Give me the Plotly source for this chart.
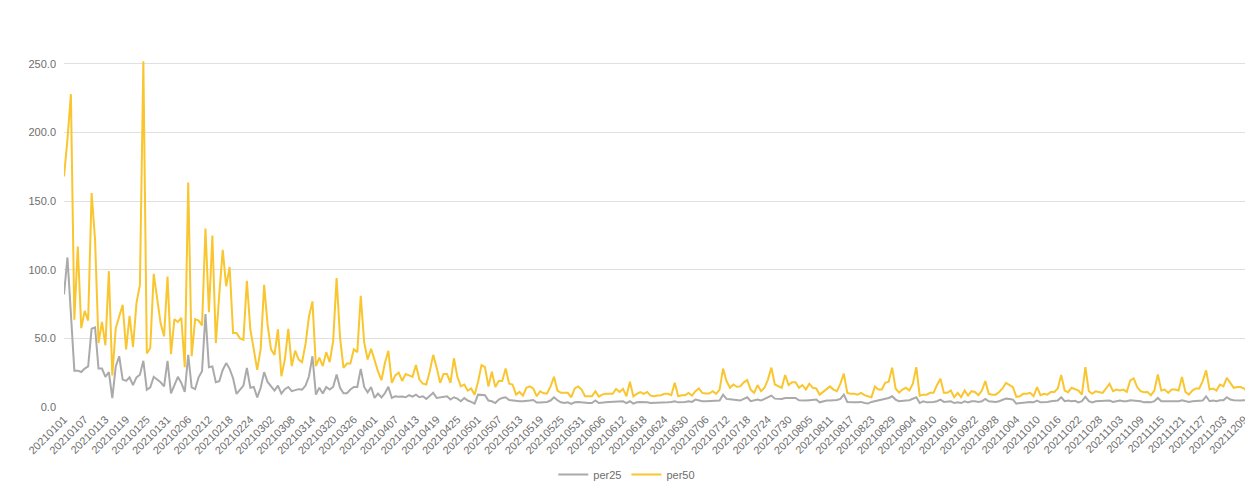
import datetime
from plotly import graph_objs as go

# daily percentiles (20210101 .. 20211211)
per25 = [
    82, 109, 68, 26.5, 26.5, 25.5, 28, 29.6, 57, 58,
    28, 28, 22, 25.5, 6.5, 29.6, 37, 20, 19, 21.6,
    16, 21.6, 23.5, 33.7, 12.6, 14.3, 22, 20, 18, 15,
    33.7, 10, 16.7, 22, 17.5, 11, 38, 14.3, 13, 21.6,
    26, 67.7, 29, 29.6, 18, 18.8, 27, 32, 27.8, 21,
    9.5, 13, 15.6, 28.5, 14, 14.6, 7, 14, 25.4, 18.3,
    15, 12, 15.6, 9.8, 13, 14.6, 11.5, 12, 13, 12.7,
    15.6, 22.4, 37, 9, 14, 9.8, 14.6, 12.7, 14.6, 23.7,
    14, 10, 10, 12.7, 14.6, 14.6, 27.8, 14.6, 10.7, 14.6,
    6.6, 9.8, 7, 10, 14.7, 6.6, 7.8, 7.4, 7.6, 7.1,
    8.6, 7.6, 9, 7.1, 7.8, 5.9, 7.8, 10.3, 6.6, 7.1,
    7.1, 7.8, 5.4, 7.1, 6.1, 4.2, 6.6, 4.7, 3.7, 2.5,
    9, 9, 8.6, 4.7, 4.2, 2.9, 5.4, 6.6, 7.1, 5.1,
    4.7, 4.2, 4.2, 4.2, 4.7, 4.7, 5.1, 3.2, 3.2, 3.2,
    3.7, 4.7, 7.1, 4.9, 3.4, 2.9, 3.4, 2.2, 3.4, 3.7,
    3.4, 2.9, 2.9, 2.9, 4.7, 2.9, 3.4, 3.4, 3.7, 3.7,
    4.2, 3.7, 4.2, 2.9, 4.2, 2.5, 3.4, 3.7, 3.7, 3.4,
    2.9, 2.9, 2.9, 3.4, 3.4, 3.4, 3.7, 4.2, 3.4, 3.4,
    3.7, 4.2, 3.7, 5.4, 4.7, 4.2, 4.2, 4.2, 4.7, 4.2,
    4.7, 9, 5.9, 5.6, 5.4, 4.7, 4.7, 5.9, 7.1, 4.2,
    4.9, 5.4, 4.7, 5.9, 6.6, 8.3, 6.1, 5.9, 5.9, 6.6,
    6.6, 6.1, 6.6, 4.9, 4.7, 4.7, 4.9, 5.4, 5.4, 3.4,
    4.2, 4.7, 4.7, 4.7, 5.1, 5.9, 9, 3.7, 3.4, 3.4,
    3.4, 3.7, 2.9, 2.5, 3.7, 4.2, 4.7, 5.1, 6.1, 6.6,
    7.8, 5.4, 4.2, 4.2, 4.7, 4.9, 6.1, 7.1, 2.9, 4.2,
    3.4, 3.4, 3.7, 4.2, 5.4, 3.7, 4.2, 4.2, 2.9, 3.4,
    2.9, 4.2, 3.4, 4.2, 4.2, 3.7, 4.2, 5.9, 4.2, 3.7,
    3.7, 4.2, 4.9, 6.1, 5.9, 5.4, 2.5, 2.9, 3.4, 3.4,
    3.7, 3.4, 4.7, 3.4, 3.4, 3.7, 4.2, 4.2, 4.7, 7.1,
    4.2, 4.7, 4.2, 4.5, 3.4, 4.2, 7.4, 4.2, 3.4, 4.2,
    4.2, 4.2, 4.7, 4.7, 3.7, 4.2, 4.7, 4.2, 4.2, 4.9,
    4.7, 4.2, 4.2, 3.4, 3.7, 3.4, 4.2, 6.6, 4.2, 4.2,
    4.2, 4.2, 4.2, 4.2, 4.9, 4.2, 3.7, 4.2, 4.2, 4.2,
    4.7, 7.8, 4.2, 4.7, 4.2, 4.9, 4.9, 7.1, 5.4, 4.9,
    4.7, 4.7, 4.9, 4.7, 5.4,
]

per50 = [
    168, 195, 228, 63.6, 117, 57.5, 70, 63, 156, 122,
    46.6, 62, 45, 99, 23, 57.5, 66, 74.5, 42, 66.5,
    43.7, 75.7, 89, 252, 39, 43, 97, 79, 61, 51.5,
    95, 38.6, 64, 62, 65, 29, 163.6, 37, 64, 63,
    59.5, 130, 69, 125, 46.6, 82, 114.6, 88, 102, 54,
    54, 50, 49, 92, 56.6, 42, 27, 42.4, 89, 60,
    42, 38, 56.6, 22.4, 34.6, 57, 29.8, 41, 34.6, 32.7,
    46, 66, 77, 29.8, 36, 29.8, 40, 32.7, 48, 94,
    50.5, 28.5, 31.7, 31.7, 42, 40, 81, 47, 34.6, 42.4,
    33.4, 26, 19.5, 32, 41, 17.6, 23, 25, 19, 24,
    23, 22, 30.6, 20, 17, 16.4, 26, 38, 28.7, 17.6,
    24, 24, 17.6, 35.5, 22, 15, 16.4, 12, 13.5, 9,
    18.4, 30.6, 29, 15, 25.7, 14.5, 19, 19, 28, 17,
    16.4, 9, 11, 8.3, 14, 15, 13.5, 7.8, 11.5, 10,
    9.8, 15, 22, 12, 10.3, 10.3, 10.3, 7.1, 13.5, 15,
    12.7, 7.8, 7.8, 7.8, 11.5, 7.6, 9, 9.6, 9.6, 9.6,
    13.2, 11, 13.2, 7.8, 18.4, 7.8, 9.6, 10.8, 9.6, 11,
    8.3, 7.8, 8.3, 8.6, 9.6, 9.6, 8.6, 17.6, 7.8, 8.6,
    8.6, 10.3, 8.3, 11.5, 13.5, 10.3, 9.8, 9.8, 11.5, 9.6,
    12.7, 28, 18.9, 14, 16.4, 14.7, 15, 18, 19.6, 12.7,
    10.3, 16, 11.5, 14, 20, 28.7, 16.4, 15, 14, 23.3,
    16, 18, 18, 14, 16, 12.7, 17, 14, 13.5, 9,
    11, 13.5, 15, 12.7, 11.5, 17, 24.3, 10.3, 9.6, 9.6,
    9, 10.3, 8.6, 7.8, 7.1, 15, 12.7, 12.7, 17.6, 18.4,
    28.7, 13.5, 10.5, 12.7, 14, 12, 17, 29, 8.3, 9,
    9, 10.3, 10.3, 16, 20.6, 10.3, 10.3, 12, 7.1, 10.3,
    7.1, 12, 8.3, 11.5, 11, 8.6, 12, 18.9, 9.6, 9,
    9, 11, 13.5, 17.6, 16, 14.5, 7.4, 7.8, 9.6, 9.6,
    10.3, 7.8, 14.5, 8.6, 9.6, 9, 11, 11, 13.5, 23.3,
    12, 10.8, 14, 13, 12, 9, 29, 11.5, 9.6, 11.5,
    11, 10.3, 13.5, 17, 11.5, 12.7, 12, 12.7, 11, 19.4,
    20.8, 14.5, 11.5, 10.8, 11, 8.6, 12, 23.8, 12, 12.7,
    10.3, 12.7, 12.7, 12, 21.8, 11, 9, 12, 13.5, 13.5,
    18.9, 26.7, 12.7, 13.5, 12, 16.4, 15, 21.3, 17.6, 14,
    14.5, 14.5, 13.5, 11, 22.5,
]

#category labels, one per day
start = datetime.date(2021, 1, 1)
dates = [(start + datetime.timedelta(days=i)).strftime('%Y%m%d') for i in range(len(per50))]
tick_dates = dates[::6]
y_ticks = [0, 50, 100, 150, 200, 250, 300]
y_top = 290.8  # axis stops a bit under 300, so the 300 label is cut off like the reference

label_color = '#6e6e6e'
grid_color = '#e0e0e0'
font_name = 'Liberation Sans, Arial, sans-serif'

fig = go.Figure()
fig.add_trace(go.Scatter(x=dates, y=per25, name='per25', mode='lines',
                         line=dict(color='#aaaaaa', width=2)))
fig.add_trace(go.Scatter(x=dates, y=per50, name='per50', mode='lines',
                         line=dict(color='#f9c62f', width=2)))

# the page body has an 8px margin, so the figure is 8px smaller than the window
fig.update_layout(
    width=1245, height=476, autosize=False,
    margin=dict(l=56, r=2, t=0, b=77),
    paper_bgcolor='white', plot_bgcolor='white',
    font=dict(family=font_name, size=11, color=label_color),
    showlegend=True,
    legend=dict(orientation='h', xref='container', yref='container',
                x=0.497, xanchor='center', y=0.02, yanchor='middle',
                itemwidth=30, font=dict(size=11, color=label_color)),
)
fig.update_xaxes(type='category', range=[0, len(dates) - 1],
                 tickmode='array', tickvals=tick_dates, ticktext=tick_dates,
                 tickangle=-45, showgrid=False, showline=False, ticks='',
                 ticklabelstandoff=3, automargin=False,
                 tickfont=dict(size=11, color=label_color))
fig.update_yaxes(range=[0, y_top], tickmode='array', tickvals=y_ticks,
                 tickformat='.1f', showgrid=True, gridcolor=grid_color, gridwidth=1,
                 zeroline=False, showline=False, ticks='', ticklabelstandoff=7,
                 automargin=False, tickfont=dict(size=11, color=label_color))

# the 300.0 label sits above the axis range, placed in paper units
fig.add_annotation(text='%.1f' % y_ticks[-1], xref='paper', x=0, xanchor='right', xshift=-7,
                   yref='paper', y=y_ticks[-1] / y_top, yanchor='middle', showarrow=False,
                   font=dict(size=11, color=label_color))

fig.write_html("out.html")
